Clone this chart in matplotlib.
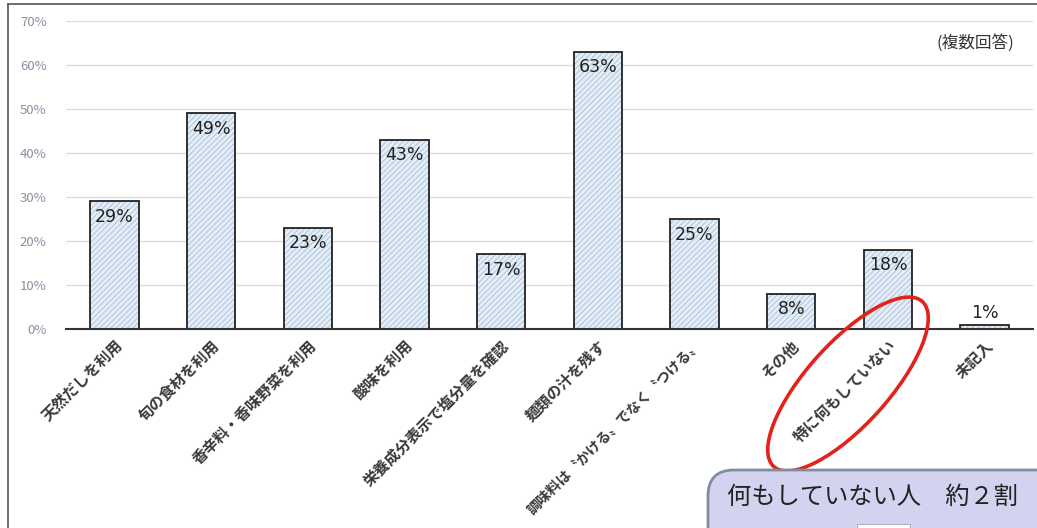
import matplotlib
matplotlib.use("Agg")
import matplotlib.pyplot as plt
from matplotlib.patches import Ellipse, FancyBboxPatch, Rectangle
from matplotlib.lines import Line2D
from matplotlib.transforms import IdentityTransform
from matplotlib.ticker import FuncFormatter

plt.rcParams["font.family"] = ["Noto Sans CJK JP", "DejaVu Sans"]
plt.rcParams["hatch.linewidth"] = 0.6

categories = ["天然だしを利用", "旬の食材を利用", "香辛料・香味野菜を利用", "酸味を利用",
              "栄養成分表示で塩分量を確認", "麺類の汁を残す", "調味料は〝かける〟でなく〝つける〟",
              "その他", "特に何もしていない", "未記入"]
values = [29, 49, 23, 43, 17, 63, 25, 8, 18, 1]
yticks = [0, 10, 20, 30, 40, 50, 60, 70]

W, H = 1037, 528
fig = plt.figure(figsize=(W / 100, H / 100), dpi=100)
ax = fig.add_axes([66 / W, 1 - 329 / H, (1033 - 66) / W, (329 - 21) / H])

x = list(range(len(categories)))
# 斜線塗り + 黒枠を二層で
ax.bar(x, values, width=0.5, color="#e4eef8", edgecolor="#a9bdd4", hatch="//////", lw=0, zorder=2)
ax.bar(x, values, width=0.5, color="none", edgecolor="#222222", lw=1.3, zorder=3)

for xi, v in zip(x, values):
    if v >= 5:
        ax.text(xi, v - 1.5, f"{v}%", ha="center", va="top", fontsize=12.5,
                family="DejaVu Sans", color="#222", zorder=4)
    else:
        ax.text(xi, v + 0.6, f"{v}%", ha="center", va="bottom", fontsize=12.5,
                family="DejaVu Sans", color="#222", zorder=4)

ax.set_xlim(-0.5, len(categories) - 0.5)
ax.set_ylim(0, 70)
ax.set_yticks(yticks)
ax.yaxis.set_major_formatter(FuncFormatter(lambda v, p: f"{int(v)}%"))
ax.tick_params(axis="y", length=0, labelsize=9.5, labelcolor="#8a8fa0", pad=14)
ax.tick_params(axis="x", length=0, pad=6)
ax.set_xticks(x)
ax.set_xticklabels(categories, rotation=45, ha="right", rotation_mode="anchor",
                   fontsize=11, fontweight="bold", color="#3a3a3a")
# 一番長いラベルは下端に収まるよう少し小さく
ax.get_xticklabels()[6].set_fontsize(10.2)
ax.grid(axis="y", color="#dcdcdc", lw=1, zorder=0)
ax.set_axisbelow(True)
for s in ["left", "right", "top"]:
    ax.spines[s].set_visible(False)
ax.spines["bottom"].set_color("#333")
ax.spines["bottom"].set_linewidth(1.5)
ax.spines["bottom"].set_zorder(5)

ax.text(0.981, 0.93, "(複数回答)", transform=ax.transAxes, ha="right", va="center",
        fontsize=12, color="#333")

# 外枠（左・上）
fig.add_artist(Line2D([8 / W, 8 / W], [0, 1 - 4 / H], transform=fig.transFigure, color="#555", lw=1.2))
fig.add_artist(Line2D([8 / W, 1], [1 - 4 / H, 1 - 4 / H], transform=fig.transFigure, color="#555", lw=1.2))

# 赤い楕円
fig.add_artist(Ellipse((848, H - 384), 222, 82, angle=48, transform=IdentityTransform(),
                       fill=False, edgecolor="#e3231b", lw=2.6, zorder=10))

# 右下の吹き出し（上端 y=470px）
fig.add_artist(FancyBboxPatch((708, -40), 360, (H - 470) + 40,
                              boxstyle="round,pad=0,rounding_size=26",
                              transform=IdentityTransform(), facecolor="#d3d3ef",
                              edgecolor="#7f8e9e", lw=2, zorder=11))
fig.add_artist(Rectangle((857, -5), 53, 9, transform=IdentityTransform(),
                         facecolor="white", edgecolor="#b0b0c8", lw=0.8, zorder=12))
fig.text(727 / W, 1 - 497 / H, "何もしていない人　約２割", ha="left", va="center",
         fontsize=17.5, color="#222", zorder=13)

fig.savefig("out.png", dpi=100, facecolor="white")
